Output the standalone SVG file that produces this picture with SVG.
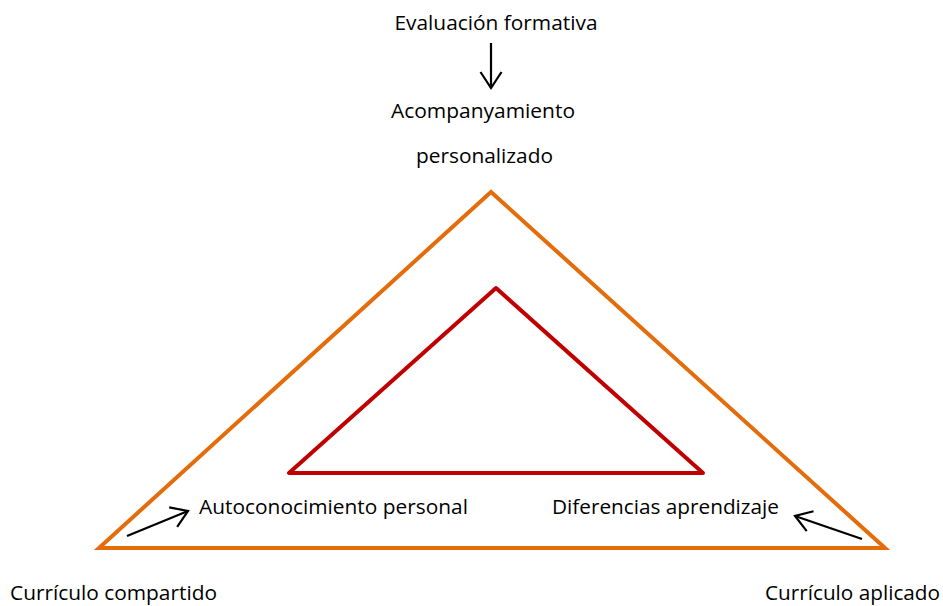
<svg xmlns="http://www.w3.org/2000/svg" width="943" height="606" viewBox="0 0 943 606">
<style>
text{font-family:"Open Sans","Liberation Sans",sans-serif;font-size:19.5px;fill:#000}
.outer{fill:none;stroke:#E46C0A;stroke-width:4;stroke-linejoin:miter}
.inner{fill:none;stroke:#C00000;stroke-width:4;stroke-linejoin:round}
.arr{fill:none;stroke:#000;stroke-width:2.2;marker-end:url(#ah)}
</style>
<defs>
<marker id="ah" markerWidth="22" markerHeight="26" refX="18" refY="12" orient="auto" markerUnits="userSpaceOnUse">
<path d="M2,1.5 L18,12 L2,22.5" fill="none" stroke="#000" stroke-width="2.2"/>
</marker>
</defs>
<g id="outer-triangle"><polygon class="outer" points="491,192 99,548 885,548"/></g>
<g id="inner-triangle"><polygon class="inner" points="496,288 289,473 703,473"/></g>
<g id="label-top"><text x="496" y="30" text-anchor="middle" textLength="203" lengthAdjust="spacingAndGlyphs">Evaluación formativa</text></g>
<g id="label-acomp"><text x="483" y="118" text-anchor="middle" textLength="184" lengthAdjust="spacingAndGlyphs">Acompanyamiento</text><text x="484.5" y="163" text-anchor="middle" textLength="137" lengthAdjust="spacingAndGlyphs">personalizado</text></g>
<g id="label-auto"><text x="199" y="514" textLength="269" lengthAdjust="spacingAndGlyphs">Autoconocimiento personal</text></g>
<g id="label-dif"><text x="552" y="514" textLength="227" lengthAdjust="spacingAndGlyphs">Diferencias aprendizaje</text></g>
<g id="label-comp"><text x="10" y="600" textLength="207" lengthAdjust="spacingAndGlyphs">Currículo compartido</text></g>
<g id="label-apl"><text x="765" y="600" textLength="175" lengthAdjust="spacingAndGlyphs">Currículo aplicado</text></g>
<g id="connectors">
<line class="arr" x1="491" y1="43" x2="491" y2="88"/>
<line class="arr" x1="127" y1="536" x2="188" y2="511"/>
<line class="arr" x1="862" y1="539" x2="795" y2="516"/>
</g>
</svg>
